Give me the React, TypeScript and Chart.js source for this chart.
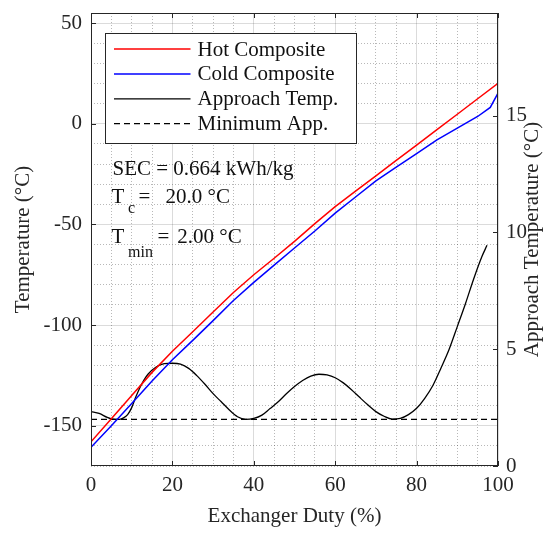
import React, { useEffect, useRef } from "react";
import { Chart, registerables } from "chart.js";

Chart.register(...registerables);

// ---------- data ----------
const hotDuty = [0, 5, 10, 15, 20, 25, 30, 35, 40, 45, 50, 55, 60, 65, 70, 75, 80, 85, 90, 95, 100];
const hotTemp = [-158, -146.5, -135, -123.5, -113, -103.3, -93.5, -83.8, -75, -66.8, -58.4, -49.6, -41.2, -33.5, -25.9, -18.2, -10.6, -2.9, 4.7, 12.4, 20.1];

const coldDuty = [0, 5, 10, 15, 20, 25, 30, 35, 40, 45, 50, 55, 60, 65, 70, 75, 80, 85, 90, 95, 98.1, 100];
const coldTemp = [-160.7, -150, -139, -127.8, -117.2, -107.6, -97.8, -87.8, -78.8, -70.2, -61.7, -53.3, -44.4, -36.4, -28.4, -21.6, -14.8, -8, -2.2, 3.6, 8.1, 15.2];

const approachDuty = [0, 2, 4, 5, 6, 7, 8, 9, 10, 11, 12, 13, 14, 16, 18, 20, 22, 24, 26, 28, 30, 32, 34, 36, 38, 40, 42, 44, 46, 48, 50, 52, 54, 56, 58, 60, 62, 64, 66, 68, 70, 72, 74, 76, 78, 80, 82, 84, 86, 88, 90, 92, 94, 96, 97.3];
const approachTemp = [2.33, 2.25, 2.08, 2.02, 2.0, 2.0, 2.06, 2.2, 2.5, 2.95, 3.35, 3.68, 3.93, 4.24, 4.38, 4.4, 4.36, 4.18, 3.87, 3.5, 3.1, 2.75, 2.4, 2.11, 2.0, 2.04, 2.18, 2.46, 2.75, 3.09, 3.4, 3.66, 3.85, 3.93, 3.9, 3.78, 3.56, 3.27, 2.94, 2.62, 2.33, 2.13, 2.01, 2.04, 2.2, 2.47, 2.9, 3.45, 4.2, 5.0, 5.97, 6.95, 8.0, 8.95, 9.45];

const minAppDuty = [0, 100];
const minAppTemp = [2.0, 2.0];

const seriesNames = ["Hot Composite", "Cold Composite", "Approach Temp.", "Minimum App."];
const xTickLabels = [0, 20, 40, 60, 80, 100];
const yTickLabels = [-150, -100, -50, 0, 50];
const y2TickLabels = [0, 5, 10, 15];

const secLabel = "SEC = 0.664 kWh/kg";
const tcValue = "20.0 °C";
const tminValue = "2.00 °C";

const FONT = "'Liberation Serif', 'Times New Roman', serif";
const INK = "#262626";
const TXT = "#111111";

const toPts = (xs: number[], ys: number[]) => xs.map((x, i) => ({ x, y: ys[i] }));

export default function App() {
  const ref = useRef<HTMLCanvasElement | null>(null);

  useEffect(() => {
    const canvas = ref.current;
    if (!canvas) return;

    const overlay = {
      id: "overlay",
      afterDraw(chart: any) {
        const { ctx, chartArea: ca, scales } = chart;
        const xs = scales.x;
        const ys = scales.y;
        const y2 = scales.y1;
        ctx.save();

        // axes box
        ctx.strokeStyle = INK;
        ctx.lineWidth = 1;
        ctx.setLineDash([]);
        ctx.strokeRect(ca.left + 0.5, ca.top + 0.5, ca.right - ca.left - 1, ca.bottom - ca.top - 1);

        // inside tick marks
        const tl = 5;
        ctx.beginPath();
        xTickLabels.forEach((v) => {
          const px = Math.round(xs.getPixelForValue(v)) + 0.5;
          ctx.moveTo(px, ca.bottom);
          ctx.lineTo(px, ca.bottom - tl);
          ctx.moveTo(px, ca.top);
          ctx.lineTo(px, ca.top + tl);
        });
        yTickLabels.forEach((v) => {
          const py = Math.round(ys.getPixelForValue(v)) + 0.5;
          ctx.moveTo(ca.left, py);
          ctx.lineTo(ca.left + tl, py);
        });
        y2TickLabels.forEach((v) => {
          const py = Math.round(y2.getPixelForValue(v)) + 0.5;
          ctx.moveTo(ca.right, py);
          ctx.lineTo(ca.right - tl, py);
        });
        ctx.stroke();

        // legend
        const lx = ca.left + 14.5;
        const ly = ca.top + 20.5;
        const lw = 251;
        const lh = 110;
        ctx.fillStyle = "#ffffff";
        ctx.fillRect(lx, ly, lw, lh);
        ctx.strokeStyle = INK;
        ctx.lineWidth = 1;
        ctx.strokeRect(lx, ly, lw, lh);
        chart.data.datasets.forEach((ds: any, i: number) => {
          const cy = ly + 15.5 + i * 24.9;
          ctx.strokeStyle = ds.borderColor;
          ctx.lineWidth = ds.borderWidth;
          ctx.setLineDash(ds.borderDash || []);
          ctx.beginPath();
          ctx.moveTo(lx + 8.5, cy);
          ctx.lineTo(lx + 85, cy);
          ctx.stroke();
          ctx.setLineDash([]);
          ctx.fillStyle = TXT;
          ctx.font = `21px ${FONT}`;
          ctx.textAlign = "left";
          ctx.textBaseline = "middle";
          ctx.fillText(ds.label, lx + 92, cy + 1);
        });

        // annotations
        ctx.fillStyle = TXT;
        ctx.textAlign = "left";
        ctx.textBaseline = "alphabetic";
        ctx.font = `21px ${FONT}`;
        ctx.fillText(secLabel, ca.left + 21.5, ca.top + 162);

        const b1 = ca.top + 190.3;
        ctx.font = `21px ${FONT}`;
        ctx.fillText("T", ca.left + 20.5, b1);
        ctx.font = `16px ${FONT}`;
        ctx.fillText("c", ca.left + 37, b1 + 10);
        ctx.font = `21px ${FONT}`;
        ctx.fillText("=", ca.left + 47.5, b1);
        ctx.fillText(tcValue, ca.left + 74.5, b1);

        const b2 = ca.top + 230.3;
        ctx.fillText("T", ca.left + 20.5, b2);
        ctx.font = `16px ${FONT}`;
        ctx.fillText("min", ca.left + 37, b2 + 14);
        ctx.font = `21px ${FONT}`;
        ctx.fillText("=", ca.left + 66.5, b2);
        ctx.fillText(tminValue, ca.left + 86.3, b2);

        // right axis title (reads bottom to top)
        ctx.save();
        ctx.translate(ca.right + 34.5, (ca.top + ca.bottom) / 2);
        ctx.rotate(-Math.PI / 2);
        ctx.textAlign = "center";
        ctx.textBaseline = "middle";
        ctx.fillStyle = INK;
        ctx.font = `21px ${FONT}`;
        ctx.fillText("Approach Temperature (°C)", 0, 0);
        ctx.restore();

        ctx.restore();
      },
    };

    const majorGrid = "rgba(0,0,0,0.14)";
    const minorGrid = "rgba(0,0,0,0.28)";

    const chart = new Chart(canvas, {
      type: "line",
      data: {
        datasets: [
          {
            label: seriesNames[0],
            data: toPts(hotDuty, hotTemp),
            borderColor: "#ff0000",
            borderWidth: 1.5,
            pointRadius: 0,
            tension: 0,
            yAxisID: "y",
          },
          {
            label: seriesNames[1],
            data: toPts(coldDuty, coldTemp),
            borderColor: "#0000ff",
            borderWidth: 1.5,
            pointRadius: 0,
            tension: 0,
            yAxisID: "y",
          },
          {
            label: seriesNames[2],
            data: toPts(approachDuty, approachTemp),
            borderColor: "#000000",
            borderWidth: 1.3,
            pointRadius: 0,
            cubicInterpolationMode: "monotone",
            yAxisID: "y1",
          },
          {
            label: seriesNames[3],
            data: toPts(minAppDuty, minAppTemp),
            borderColor: "#000000",
            borderWidth: 1.3,
            borderDash: [6, 4],
            pointRadius: 0,
            yAxisID: "y1",
          },
        ] as any,
      },
      options: {
        animation: false,
        responsive: false,
        maintainAspectRatio: false,
        devicePixelRatio: 1,
        layout: { padding: { top: 13, left: 0, right: 0, bottom: 0 } },
        plugins: {
          legend: { display: false },
          tooltip: { enabled: false },
          title: { display: false },
        },
        scales: {
          x: {
            type: "linear",
            min: 0,
            max: 100,
            afterFit: (s: any) => {
              s.height = 67;
              s.paddingLeft = 0;
              s.paddingRight = 0;
            },
            border: {
              display: false,
              dash: (c: any) => (c.tick && c.tick.value % 20 === 0 ? [] : [1, 2]),
            },
            grid: {
              drawTicks: false,
              lineWidth: 1,
              color: (c: any) => (c.tick && c.tick.value % 20 === 0 ? majorGrid : minorGrid),
            },
            ticks: {
              stepSize: 5,
              autoSkip: false,
              maxRotation: 0,
              padding: 7,
              color: INK,
              font: { family: FONT, size: 21 },
              callback: (v: any) => (xTickLabels.includes(Number(v)) ? String(v) : ""),
            },
            title: {
              display: true,
              text: "Exchanger Duty (%)",
              color: INK,
              font: { family: FONT, size: 21 },
              padding: { top: 0, bottom: 4 },
            },
          },
          y: {
            type: "linear",
            position: "left",
            min: -170,
            max: 55,
            afterFit: (s: any) => {
              s.width = 91;
              s.paddingTop = 0;
              s.paddingBottom = 0;
            },
            border: {
              display: false,
              dash: (c: any) => (c.tick && c.tick.value % 50 === 0 ? [] : [1, 2]),
            },
            grid: {
              drawTicks: false,
              lineWidth: 1,
              color: (c: any) => (c.tick && c.tick.value % 50 === 0 ? majorGrid : minorGrid),
            },
            ticks: {
              stepSize: 10,
              autoSkip: false,
              includeBounds: false,
              padding: 9,
              color: INK,
              font: { family: FONT, size: 21 },
              callback: (v: any) => (yTickLabels.includes(Number(v)) ? String(v) : ""),
            },
            title: {
              display: true,
              text: "Temperature (°C)",
              color: INK,
              font: { family: FONT, size: 21 },
              padding: { top: 11, bottom: 0 },
            },
          },
          y1: {
            type: "linear",
            position: "right",
            min: 0,
            max: 19.4,
            afterFit: (s: any) => {
              s.width = 45;
              s.paddingTop = 0;
              s.paddingBottom = 0;
            },
            border: { display: false },
            grid: { drawOnChartArea: false, drawTicks: false },
            ticks: {
              stepSize: 5,
              autoSkip: false,
              includeBounds: false,
              padding: 8,
              color: INK,
              font: { family: FONT, size: 21 },
              callback: (v: any) => (y2TickLabels.includes(Number(v)) ? String(v) : ""),
            },
          },
        },
      } as any,
      plugins: [overlay],
    });

    return () => {
      chart.destroy();
    };
  }, []);

  return (
    <div style={{ position: "fixed", left: 0, top: 0, width: 543, height: 533, background: "#ffffff" }}>
      <canvas ref={ref} width={543} height={533} style={{ display: "block" }} />
    </div>
  );
}
